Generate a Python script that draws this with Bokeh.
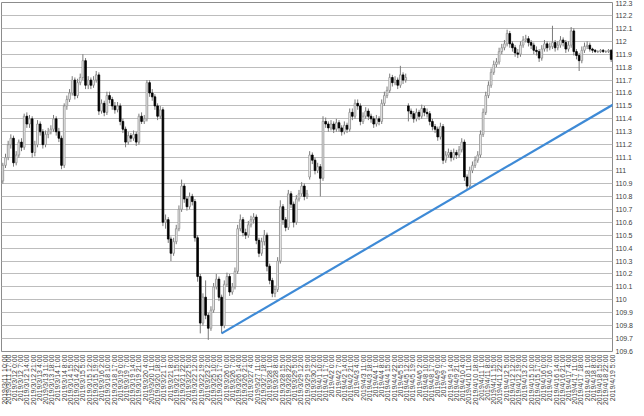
from bokeh.plotting import figure
from bokeh.models import Range1d, FixedTicker, CustomJSTickFormatter, ColumnDataSource
from bokeh.embed import file_html
from bokeh.resources import INLINE
import math

# ---- tick labels (hourly category axis, a label every 7 bars) ----
tick_labels = [
    "2019/3/11 10:00", "2019/3/11 17:00", "2019/3/12 0:00", "2019/3/12 7:00", "2019/3/12 14:00", "2019/3/12 21:00",
    "2019/3/13 4:00", "2019/3/13 11:00", "2019/3/13 18:00", "2019/3/14 1:00", "2019/3/14 8:00", "2019/3/14 15:00",
    "2019/3/14 22:00", "2019/3/15 5:00", "2019/3/15 12:00", "2019/3/15 19:00", "2019/3/16 2:00",
    "2019/3/18 10:00", "2019/3/18 17:00", "2019/3/19 0:00", "2019/3/19 7:00", "2019/3/19 14:00", "2019/3/19 21:00",
    "2019/3/20 4:00", "2019/3/20 11:00", "2019/3/20 18:00", "2019/3/21 1:00", "2019/3/21 8:00", "2019/3/21 15:00",
    "2019/3/21 22:00", "2019/3/22 5:00", "2019/3/22 12:00", "2019/3/22 19:00", "2019/3/23 2:00",
    "2019/3/25 10:00", "2019/3/25 17:00", "2019/3/26 0:00", "2019/3/26 7:00", "2019/3/26 14:00", "2019/3/26 21:00",
    "2019/3/27 4:00", "2019/3/27 11:00", "2019/3/27 18:00", "2019/3/28 1:00", "2019/3/28 8:00", "2019/3/28 15:00",
    "2019/3/28 22:00", "2019/3/29 5:00", "2019/3/29 12:00", "2019/3/29 19:00", "2019/3/30 2:00",
    "2019/4/1 10:00", "2019/4/1 17:00", "2019/4/2 0:00", "2019/4/2 7:00", "2019/4/2 14:00", "2019/4/2 21:00",
    "2019/4/3 4:00", "2019/4/3 11:00", "2019/4/3 18:00", "2019/4/4 1:00", "2019/4/4 8:00", "2019/4/4 15:00",
    "2019/4/4 22:00", "2019/4/5 5:00", "2019/4/5 12:00", "2019/4/5 19:00", "2019/4/6 2:00",
    "2019/4/8 10:00", "2019/4/8 17:00", "2019/4/9 0:00", "2019/4/9 7:00", "2019/4/9 14:00", "2019/4/9 21:00",
    "2019/4/10 4:00", "2019/4/10 11:00", "2019/4/10 18:00", "2019/4/11 1:00", "2019/4/11 8:00", "2019/4/11 15:00",
    "2019/4/11 22:00", "2019/4/12 5:00", "2019/4/12 12:00", "2019/4/12 19:00", "2019/4/13 2:00",
    "2019/4/15 10:00", "2019/4/15 17:00", "2019/4/16 0:00", "2019/4/16 7:00", "2019/4/16 14:00", "2019/4/16 21:00",
    "2019/4/17 4:00", "2019/4/17 11:00", "2019/4/17 18:00", "2019/4/18 1:00", "2019/4/18 8:00", "2019/4/18 15:00",
    "2019/4/18 22:00", "2019/4/19 5:00",
]
label_step = 7      # hourly bars between labels
bars_per_candle = 3 # each candle covers 3 hourly bars
n_hours = 687

y_ticks = [109.6, 109.7, 109.8, 109.9, 110.0, 110.1, 110.2, 110.3, 110.4, 110.5, 110.6, 110.7, 110.8, 110.9,
           111.0, 111.1, 111.2, 111.3, 111.4, 111.5, 111.6, 111.7, 111.8, 111.9, 112.0, 112.1, 112.2, 112.3]

# ---- USD/JPY candles ----
opens = [
    110.92, 111.04, 111.10, 111.20, 111.25, 111.06, 111.12, 111.22, 111.18, 111.42,
    111.36, 111.40, 111.14, 111.20, 111.36, 111.30, 111.20, 111.28, 111.30, 111.32,
    111.40, 111.30, 111.25, 111.04, 111.50, 111.55, 111.60, 111.70, 111.58, 111.68,
    111.72, 111.85, 111.66, 111.70, 111.66, 111.70, 111.74, 111.46, 111.52, 111.45,
    111.58, 111.55, 111.50, 111.47, 111.50, 111.38, 111.32, 111.22, 111.27, 111.25,
    111.28, 111.22, 111.42, 111.38, 111.40, 111.68, 111.60, 111.57, 111.50, 111.42,
    111.47, 110.60, 110.62, 110.47, 110.36, 110.45, 110.55, 110.70, 110.88, 110.78,
    110.72, 110.80, 110.76, 110.48, 110.18, 109.82, 110.02, 109.88, 109.78, 109.92,
    110.10, 110.16, 110.02, 109.80, 110.12, 110.18, 110.06, 110.10, 110.22, 110.55,
    110.62, 110.52, 110.50, 110.58, 110.62, 110.64, 110.46, 110.36, 110.45, 110.50,
    110.26, 110.15, 110.05, 110.08, 110.30, 110.72, 110.62, 110.56, 110.82, 110.74,
    110.60, 110.78, 110.82, 110.88, 110.80, 110.95, 111.12, 111.08, 111.00, 111.03,
    110.94, 111.38, 111.36, 111.33, 111.36, 111.32, 111.37, 111.33, 111.30, 111.35,
    111.32, 111.45, 111.42, 111.52, 111.50, 111.38, 111.42, 111.46, 111.42, 111.40,
    111.36, 111.40, 111.38, 111.52, 111.58, 111.62, 111.72, 111.68, 111.70, 111.66,
    111.74, 111.70, 111.50, 111.46, 111.44, 111.40, 111.45, 111.42, 111.48, 111.45,
    111.44, 111.38, 111.34, 111.32, 111.26, 111.34, 111.08, 111.12, 111.14, 111.10,
    111.14, 111.12, 111.16, 111.22, 110.95, 110.88, 111.00, 111.04, 111.08, 111.12,
    111.28, 111.45, 111.58, 111.66, 111.76, 111.82, 111.84, 111.92, 111.95, 111.98,
    112.06, 111.98, 111.95, 111.91, 111.90, 111.97, 112.01, 112.02, 111.99, 111.97,
    111.93, 111.92, 111.87, 111.94, 111.98, 111.95, 111.96, 111.99, 111.95, 111.97,
    112.01, 111.99, 111.94, 111.97, 112.08, 111.92, 111.89, 111.85, 111.93, 111.96,
    111.97, 111.94, 111.93, 111.92, 111.92, 111.93, 111.92, 111.92, 111.93,
]
closes = [
    111.04, 111.10, 111.20, 111.25, 111.06, 111.12, 111.22, 111.18, 111.42, 111.36,
    111.40, 111.14, 111.20, 111.36, 111.30, 111.20, 111.28, 111.30, 111.32, 111.40,
    111.30, 111.25, 111.04, 111.50, 111.55, 111.60, 111.70, 111.58, 111.68, 111.72,
    111.85, 111.66, 111.70, 111.66, 111.70, 111.74, 111.46, 111.52, 111.45, 111.58,
    111.55, 111.50, 111.47, 111.50, 111.38, 111.32, 111.22, 111.27, 111.25, 111.28,
    111.22, 111.42, 111.38, 111.40, 111.68, 111.60, 111.57, 111.50, 111.42, 111.47,
    110.60, 110.62, 110.47, 110.36, 110.45, 110.55, 110.70, 110.88, 110.78, 110.72,
    110.80, 110.76, 110.48, 110.18, 109.82, 110.02, 109.88, 109.78, 109.92, 110.10,
    110.16, 110.02, 109.80, 110.12, 110.18, 110.06, 110.10, 110.22, 110.55, 110.62,
    110.52, 110.50, 110.58, 110.62, 110.64, 110.46, 110.36, 110.45, 110.50, 110.26,
    110.15, 110.05, 110.08, 110.30, 110.72, 110.62, 110.56, 110.82, 110.74, 110.60,
    110.78, 110.82, 110.88, 110.80, 110.82, 111.12, 111.08, 111.00, 111.03, 110.94,
    111.38, 111.36, 111.33, 111.36, 111.32, 111.37, 111.33, 111.30, 111.35, 111.32,
    111.45, 111.42, 111.52, 111.50, 111.38, 111.42, 111.46, 111.42, 111.40, 111.36,
    111.40, 111.38, 111.52, 111.58, 111.62, 111.72, 111.68, 111.70, 111.66, 111.74,
    111.70, 111.72, 111.46, 111.44, 111.40, 111.45, 111.42, 111.48, 111.45, 111.44,
    111.38, 111.34, 111.32, 111.26, 111.34, 111.08, 111.12, 111.14, 111.10, 111.14,
    111.12, 111.16, 111.22, 110.95, 110.88, 111.00, 111.04, 111.08, 111.12, 111.28,
    111.45, 111.58, 111.66, 111.76, 111.82, 111.84, 111.92, 111.95, 111.98, 112.06,
    111.98, 111.95, 111.91, 111.90, 111.97, 112.01, 112.02, 111.99, 111.97, 111.93,
    111.92, 111.87, 111.94, 111.98, 111.95, 111.96, 111.99, 111.95, 111.97, 112.01,
    111.99, 111.94, 111.97, 112.08, 111.92, 111.89, 111.85, 111.93, 111.96, 111.97,
    111.94, 111.93, 111.92, 111.92, 111.93, 111.92, 111.92, 111.93, 111.86,
]
highs = [
    111.06, 111.13, 111.23, 111.28, 111.27, 111.15, 111.24, 111.25, 111.44, 111.45,
    111.43, 111.42, 111.23, 111.39, 111.38, 111.32, 111.31, 111.33, 111.35, 111.43,
    111.42, 111.33, 111.27, 111.52, 111.58, 111.63, 111.73, 111.72, 111.71, 111.75,
    111.90, 111.87, 111.73, 111.72, 111.73, 111.77, 111.76, 111.55, 111.54, 111.61,
    111.61, 111.57, 111.53, 111.53, 111.52, 111.40, 111.34, 111.30, 111.29, 111.31,
    111.30, 111.44, 111.45, 111.43, 111.70, 111.70, 111.63, 111.59, 111.52, 111.50,
    111.49, 110.66, 110.64, 110.49, 110.48, 110.58, 110.73, 110.93, 110.90, 110.80,
    110.83, 110.82, 110.78, 110.50, 110.20, 110.05, 110.15, 109.90, 109.95, 110.13,
    110.20, 110.18, 110.04, 110.15, 110.21, 110.20, 110.13, 110.25, 110.58, 110.66,
    110.64, 110.55, 110.61, 110.65, 110.67, 110.66, 110.48, 110.48, 110.54, 110.52,
    110.28, 110.17, 110.11, 110.33, 110.77, 110.74, 110.64, 110.85, 110.84, 110.76,
    110.81, 110.85, 110.91, 110.90, 110.85, 111.15, 111.14, 111.10, 111.06, 111.05,
    111.42, 111.41, 111.38, 111.39, 111.38, 111.40, 111.39, 111.35, 111.38, 111.37,
    111.48, 111.48, 111.55, 111.55, 111.52, 111.45, 111.49, 111.48, 111.44, 111.42,
    111.43, 111.42, 111.55, 111.61, 111.65, 111.75, 111.74, 111.73, 111.72, 111.81,
    111.76, 111.75, 111.52, 111.48, 111.46, 111.48, 111.47, 111.51, 111.50, 111.48,
    111.46, 111.40, 111.36, 111.34, 111.37, 111.36, 111.15, 111.17, 111.16, 111.17,
    111.16, 111.19, 111.25, 111.24, 110.97, 111.03, 111.07, 111.11, 111.15, 111.31,
    111.48, 111.61, 111.69, 111.79, 111.85, 111.87, 111.95, 111.98, 112.01, 112.09,
    112.08, 112.00, 111.97, 111.94, 112.00, 112.04, 112.05, 112.04, 112.01, 111.99,
    111.96, 111.94, 111.97, 112.01, 112.00, 111.99, 112.12, 112.01, 112.00, 112.04,
    112.03, 112.01, 112.00, 112.11, 112.10, 111.94, 111.91, 111.96, 111.99, 112.00,
    111.99, 111.95, 111.94, 111.93, 111.94, 111.94, 111.93, 111.94, 111.94,
]
lows = [
    110.90, 111.02, 111.08, 111.17, 111.03, 111.04, 111.10, 111.15, 111.16, 111.33,
    111.33, 111.10, 111.11, 111.18, 111.27, 111.17, 111.18, 111.25, 111.28, 111.30,
    111.27, 111.22, 111.01, 111.02, 111.47, 111.53, 111.58, 111.55, 111.56, 111.66,
    111.70, 111.63, 111.63, 111.63, 111.64, 111.68, 111.43, 111.44, 111.42, 111.43,
    111.52, 111.47, 111.44, 111.45, 111.35, 111.29, 111.18, 111.20, 111.22, 111.23,
    111.19, 111.20, 111.36, 111.36, 111.38, 111.57, 111.54, 111.47, 111.39, 111.40,
    110.57, 110.55, 110.44, 110.30, 110.34, 110.43, 110.53, 110.68, 110.75, 110.69,
    110.70, 110.73, 110.45, 110.14, 109.74, 109.80, 109.85, 109.69, 109.76, 109.90,
    110.08, 109.99, 109.74, 109.78, 110.10, 110.03, 110.04, 110.08, 110.20, 110.53,
    110.49, 110.47, 110.48, 110.56, 110.59, 110.43, 110.33, 110.34, 110.42, 110.22,
    110.12, 110.02, 110.02, 110.06, 110.28, 110.58, 110.53, 110.54, 110.71, 110.56,
    110.58, 110.76, 110.80, 110.77, 110.78, 110.93, 111.05, 110.97, 110.98, 110.80,
    110.92, 111.33, 111.30, 111.31, 111.29, 111.30, 111.30, 111.27, 111.28, 111.29,
    111.30, 111.39, 111.40, 111.47, 111.35, 111.36, 111.40, 111.39, 111.37, 111.33,
    111.34, 111.35, 111.36, 111.50, 111.56, 111.60, 111.65, 111.66, 111.63, 111.64,
    111.67, 111.68, 111.38, 111.41, 111.37, 111.38, 111.39, 111.40, 111.42, 111.41,
    111.35, 111.31, 111.29, 111.23, 111.24, 111.05, 111.06, 111.10, 111.07, 111.08,
    111.09, 111.10, 111.14, 110.92, 110.85, 110.86, 110.98, 111.02, 111.06, 111.10,
    111.26, 111.43, 111.56, 111.64, 111.74, 111.80, 111.82, 111.90, 111.93, 111.96,
    111.95, 111.92, 111.88, 111.87, 111.88, 111.95, 111.99, 111.96, 111.94, 111.90,
    111.89, 111.84, 111.85, 111.92, 111.92, 111.93, 111.94, 111.92, 111.93, 111.95,
    111.96, 111.91, 111.92, 111.95, 111.89, 111.86, 111.77, 111.83, 111.91, 111.94,
    111.92, 111.91, 111.91, 111.91, 111.91, 111.91, 111.91, 111.91, 111.84,
]

# support trendline drawn through the 3/26 and 4/10 lows (hourly bar index, price)
trend_hours = [247, 702]
trend_prices = [109.74, 111.57]

# ---- build ----
n = len(closes)
xs = [bars_per_candle * i + 1 for i in range(n)]
up = [c >= o for o, c in zip(opens, closes)]
src = ColumnDataSource(dict(
    x=xs,
    top=[max(o, c) for o, c in zip(opens, closes)],
    bottom=[min(o, c) for o, c in zip(opens, closes)],
    high=highs, low=lows,
    fill=["#FFFFFF" if u else "#000000" for u in up],
    line=["#8C8C8C" if u else "#000000" for u in up],
))

FONT = "Liberation Sans"

p = figure(width=636, height=408, output_backend="svg", toolbar_location=None,
           x_range=Range1d(-0.5, n_hours - 0.5), y_range=Range1d(109.6, 112.3),
           y_axis_location="right",
           min_border_left=1, min_border_right=0, min_border_top=2, min_border_bottom=53)
p.background_fill_color = "#FFFFFF"
p.border_fill_color = "#FFFFFF"
p.outline_line_color = "#8C8C8C"
p.outline_line_width = 1

p.xgrid.visible = False
p.ygrid.ticker = FixedTicker(ticks=y_ticks)
p.ygrid.grid_line_color = "#BDBDBD"
p.ygrid.grid_line_width = 1

p.segment(x0="x", y0="low", x1="x", y1="high", source=src, line_color="#7A7A7A", line_width=1)
p.vbar(x="x", width=1.9, top="top", bottom="bottom", source=src,
       fill_color="fill", line_color="line", line_width=0.8)

p.line(trend_hours, trend_prices, line_color="#3E8AD6", line_width=2.2)

yax = p.yaxis[0]
yax.axis_label = None
yax.ticker = FixedTicker(ticks=y_ticks)
yax.formatter = CustomJSTickFormatter(code="return String(parseFloat(tick.toFixed(1)));")
yax.axis_line_color = None
yax.major_tick_line_color = None
yax.minor_tick_line_color = None
yax.major_tick_out = 0
yax.major_tick_in = 0
yax.minor_tick_out = 0
yax.minor_tick_in = 0
yax.major_label_standoff = 3
yax.major_label_text_font = FONT
yax.major_label_text_font_size = "7px"
yax.major_label_text_color = "#404040"

xax = p.xaxis[0]
tick_pos = [label_step * k for k in range(len(tick_labels))]
xax.ticker = FixedTicker(ticks=tick_pos)
xax.major_label_overrides = {pos: lab for pos, lab in zip(tick_pos, tick_labels)}
xax.major_label_orientation = math.pi / 2
xax.axis_line_color = None
xax.major_tick_line_color = None
xax.minor_tick_line_color = None
xax.major_tick_out = 0
xax.major_tick_in = 0
xax.minor_tick_out = 0
xax.minor_tick_in = 0
xax.major_label_standoff = 3
xax.major_label_text_font = FONT
xax.major_label_text_font_size = "7px"
xax.major_label_text_color = "#404040"

open("out.html", "w").write(file_html(p, INLINE))
